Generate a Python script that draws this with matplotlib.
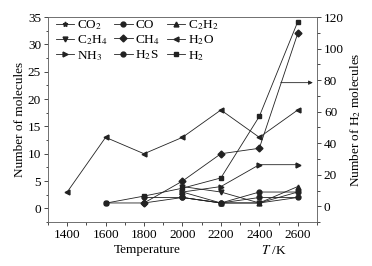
import numpy as np
import matplotlib
matplotlib.use('Agg')
import matplotlib.pyplot as plt
from matplotlib.ticker import MultipleLocator

plt.rcParams['font.family'] = ['Liberation Serif', 'DejaVu Serif']
plt.rcParams['font.size'] = 9.5
plt.rcParams['mathtext.fontset'] = 'stix'

# temperatures (K)
t_h2o = [1400, 1600, 1800, 2000, 2200, 2400, 2600]
t_h2 = [1600, 1800, 2000, 2200, 2400, 2600]
t_ch4 = [1800, 2000, 2200, 2400, 2600]
t_co = [1600, 1800, 2000, 2200, 2400, 2600]
t_h2s = [1800, 2000, 2200, 2400, 2600]
t_hi = [2000, 2200, 2400, 2600]

co2 = [2, 1, 1, 2]
co = [1, 1, 2, 1, 3, 3]
c2h2 = [3, 1, 1, 4]
c2h4 = [4, 3, 1, 3]
ch4 = [1, 5, 10, 11, 32]
h2o = [3, 13, 10, 13, 18, 13, 18]
nh3 = [3, 4, 8, 8]
h2s = [2, 2, 1, 2, 2]
h2 = [2, 6.5, 11.5, 18, 57, 117]

fig = plt.figure(figsize=(3.72, 2.66), dpi=100)
ax = fig.add_axes([0.129, 0.165, 0.723, 0.771])
ax2 = ax.twinx()

kw = dict(color='#222222', lw=0.6, ms=3.5)
l_co2, = ax.plot(t_hi, co2, marker=(5, 1, 0), label='CO$_2$', **kw)
l_co, = ax.plot(t_co, co, marker='o', label='CO', **kw)
l_c2h2, = ax.plot(t_hi, c2h2, marker='^', label='C$_2$H$_2$', **kw)
l_c2h4, = ax.plot(t_hi, c2h4, marker='v', label='C$_2$H$_4$', **kw)
l_ch4, = ax.plot(t_ch4, ch4, marker='D', label='CH$_4$', **kw)
l_h2o, = ax.plot(t_h2o, h2o, marker='<', label='H$_2$O', **kw)
l_nh3, = ax.plot(t_hi, nh3, marker='>', label='NH$_3$', **kw)
l_h2s, = ax.plot(t_h2s, h2s, marker='o', label='H$_2$S', **kw)
l_h2, = ax2.plot(t_h2, h2, marker='s', label='H$_2$', **kw)

ax.set_xlim(1300, 2700)
ax.set_ylim(-2.5, 35)
ax2.set_ylim(-10, 120)
ax.set_xticks([1400, 1600, 1800, 2000, 2200, 2400, 2600])
ax.xaxis.set_minor_locator(MultipleLocator(100))
ax.yaxis.set_major_locator(MultipleLocator(5))
ax.yaxis.set_minor_locator(MultipleLocator(2.5))
ax2.yaxis.set_major_locator(MultipleLocator(20))
ax2.yaxis.set_minor_locator(MultipleLocator(10))

for a in (ax, ax2):
    a.tick_params(which='both', direction='out', width=0.5, pad=2)
    a.tick_params(which='major', length=3)
    a.tick_params(which='minor', length=1.8)
    for s in a.spines.values():
        s.set_linewidth(0.5)
        s.set_color('#666666')

ax.set_ylabel('Number of molecules', labelpad=1)
ax2.set_ylabel('Number of H$_2$ molecules', labelpad=3)
ax.text(0.37, -0.105, 'Temperature', transform=ax.transAxes, ha='center', va='top')
ax.text(0.84, -0.105, '$T$ /K', transform=ax.transAxes, ha='center', va='top')

ax.annotate('', xy=(0.995, 0.68), xytext=(0.855, 0.68), xycoords='axes fraction',
            arrowprops=dict(arrowstyle='-|>', color='#222222', lw=0.6, mutation_scale=6))

handles = [l_co2, l_c2h4, l_nh3, l_co, l_ch4, l_h2s, l_c2h2, l_h2o, l_h2]
ax.legend(handles=handles, loc='upper left', bbox_to_anchor=(0.01, 1.02), ncol=3,
          frameon=False, handlelength=1.4, handletextpad=0.2, columnspacing=0.5,
          labelspacing=0.12, borderaxespad=0.0, fontsize=9.5)

fig.savefig('out.png', dpi=100)
